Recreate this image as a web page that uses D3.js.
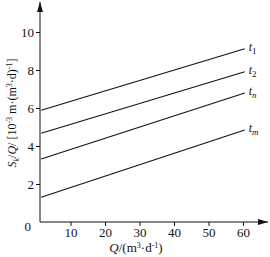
<!DOCTYPE html>
<html>
<head>
<meta charset="utf-8">
<script src="https://cdn.jsdelivr.net/npm/d3@7"></script>
<style>
  body { margin: 0; background: #fff; }
  text, tspan { font-family: "Liberation Serif", "DejaVu Serif", serif; fill: #111; }
</style>
</head>
<body>
<script>
// line names and their end values (Q start / end, Sk/Q at those points)
var names = ["1", "2", "n", "m"];
var qRange = [1.5, 60.5];
var startVals = [5.88, 4.67, 3.32, 1.3];
var endVals = [9.12, 7.91, 6.79, 4.84];
var xTicks = [10, 20, 30, 40, 50, 60];
var yTicks = [0, 2, 4, 6, 8, 10];

var width = 270, height = 257;

var svg = d3.select("body").append("svg")
    .attr("width", width)
    .attr("height", height);

var x = d3.scaleLinear().domain([0, 60]).range([36, 243]);
var y = d3.scaleLinear().domain([0, 10]).range([222, 32]);

svg.append("defs").append("marker")
    .attr("id", "arr")
    .attr("viewBox", "0 0 10 6")
    .attr("refX", 10).attr("refY", 3)
    .attr("markerWidth", 10).attr("markerHeight", 6)
    .attr("markerUnits", "userSpaceOnUse")
    .attr("orient", "auto")
  .append("path")
    .attr("d", "M0,0L10,3L0,6z")
    .attr("fill", "#111");

// axes lines with arrows
var x0 = 40, y0 = 222;
svg.append("line")
    .attr("x1", x0).attr("y1", y0).attr("x2", 268).attr("y2", y0)
    .attr("stroke", "#111").attr("stroke-width", 1)
    .attr("marker-end", "url(#arr)");
svg.append("line")
    .attr("x1", x0).attr("y1", y0).attr("x2", x0).attr("y2", 2)
    .attr("stroke", "#111").attr("stroke-width", 1)
    .attr("marker-end", "url(#arr)");

var xAxis = svg.append("g")
    .attr("transform", "translate(0," + y0 + ")")
    .call(d3.axisBottom(x).tickValues(xTicks).tickSize(4).tickPadding(2));
xAxis.select(".domain").remove();
xAxis.selectAll("text").style("font-size", "13px").style("font-family", "Liberation Serif").attr("fill", "#111");
xAxis.selectAll("line").attr("stroke", "#111");

var yAxis = svg.append("g")
    .attr("transform", "translate(" + x0 + ",0)")
    .call(d3.axisLeft(y).tickValues(yTicks.filter(function(d) { return d > 0; })).tickSize(4).tickPadding(2));
yAxis.select(".domain").remove();
yAxis.selectAll("text").style("font-size", "13px").style("font-family", "Liberation Serif").attr("fill", "#111");
yAxis.selectAll("line").attr("stroke", "#111");

svg.append("text")
    .attr("x", 31).attr("y", 231)
    .attr("text-anchor", "end")
    .style("font-size", "13px")
    .text("0");

// lines
var lineData = names.map(function(n, i) {
  return {name: n, pts: [[qRange[0], startVals[i]], [qRange[1], endVals[i]]]};
});

var line = d3.line()
    .x(function(d) { return x(d[0]); })
    .y(function(d) { return y(d[1]); });

svg.selectAll(".ln")
    .data(lineData)
  .enter().append("path")
    .attr("class", "ln")
    .attr("d", function(d) { return line(d.pts); })
    .attr("fill", "none")
    .attr("stroke", "#111")
    .attr("stroke-width", 1.1);

var lbl = svg.selectAll(".lbl")
    .data(lineData)
  .enter().append("text")
    .attr("class", "lbl")
    .attr("x", function(d) { return x(d.pts[1][0]) + 4; })
    .attr("y", function(d) { return y(d.pts[1][1]) + 2; })
    .style("font-size", "12px");
lbl.append("tspan").style("font-style", "italic").text("t");
lbl.append("tspan")
    .attr("dy", 3)
    .style("font-size", "9px")
    .style("font-style", function(d) { return d.name === "1" || d.name === "2" ? "normal" : "italic"; })
    .text(function(d) { return d.name; });

// x label
var xl = svg.append("text")
    .attr("x", 136).attr("y", 252)
    .attr("text-anchor", "middle")
    .style("font-size", "13px");
xl.append("tspan").style("font-style", "italic").text("Q");
xl.append("tspan").text("/(m");
xl.append("tspan").attr("dy", -4).style("font-size", "8px").text("3");
xl.append("tspan").attr("dy", 4).text("\u00b7d");
xl.append("tspan").attr("dy", -4).style("font-size", "8px").text("-1");
xl.append("tspan").attr("dy", 4).text(")");

// y label
var yl = svg.append("text")
    .attr("transform", "translate(16,113)rotate(-90)")
    .attr("text-anchor", "middle")
    .style("font-size", "12px");
yl.append("tspan").style("font-style", "italic").text("S");
yl.append("tspan").attr("dy", 3).style("font-size", "8px").style("font-style", "italic").text("k");
yl.append("tspan").attr("dy", -3).text("/");
yl.append("tspan").style("font-style", "italic").text("Q");
yl.append("tspan").text("/ [10");
yl.append("tspan").attr("dy", -4).style("font-size", "8px").text("-3");
yl.append("tspan").attr("dy", 4).text(" m\u00b7(m");
yl.append("tspan").attr("dy", -4).style("font-size", "8px").text("3");
yl.append("tspan").attr("dy", 4).text("\u00b7d)");
yl.append("tspan").attr("dy", -4).style("font-size", "8px").text("-1");
yl.append("tspan").attr("dy", 4).text("]");
</script>
</body>
</html>
